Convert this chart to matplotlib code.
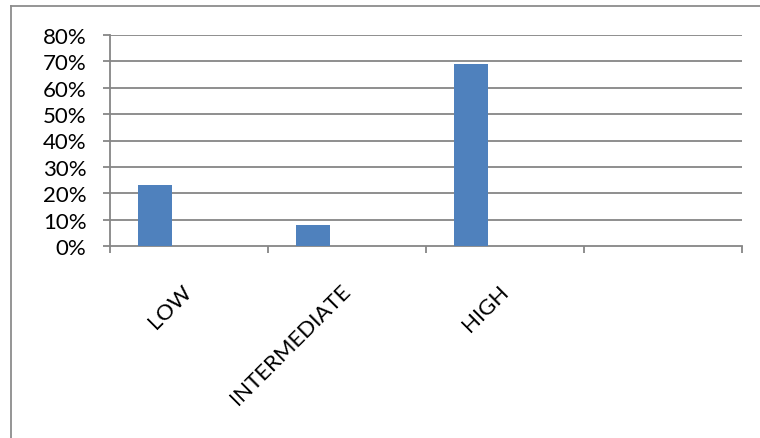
import matplotlib
matplotlib.use("Agg")
import matplotlib.pyplot as plt
from matplotlib.lines import Line2D
from matplotlib.ticker import FixedLocator, PercentFormatter

categories = ["LOW", "INTERMEDIATE", "HIGH", ""]
values = [23, 8, 69, None]
yticks = [0, 10, 20, 30, 40, 50, 60, 70, 80]

plt.rcParams['font.family'] = ['Lato', 'DejaVu Sans']

W, H = 760, 439
fig = plt.figure(figsize=(W / 100, H / 100), dpi=100)
ax = fig.add_axes([110 / W, 1 - 247 / H, (742 - 110) / W, (247 - 36) / H])

grid_c = "#868686"
bar_c = "#4F81BD"

xs = []
hs = []
for i, v in enumerate(values):
    if v is not None:
        xs.append(i + 0.5 - 0.215)
        hs.append(v)
ax.bar(xs, hs, width=0.215, color=bar_c, zorder=3)

ax.set_xlim(0, len(categories))
ax.set_ylim(0, 80)
ax.set_yticks(yticks)
ax.yaxis.set_major_formatter(PercentFormatter(decimals=0))
for y in yticks[1:]:
    ax.axhline(y, color=grid_c, lw=1.3, zorder=1)

ax.set_xticks([i + 0.5 for i in range(len(categories))])
ax.set_xticklabels(categories, rotation=45, ha='right', va='center',
                   rotation_mode='anchor', fontsize=16)
ax.xaxis.set_minor_locator(FixedLocator(list(range(len(categories) + 1))))
ax.tick_params(axis='x', which='major', length=0, pad=30)
ax.tick_params(axis='x', which='minor', length=5, width=1.3, color=grid_c, direction='out')
ax.tick_params(axis='y', length=5, width=1.3, color=grid_c, direction='out', pad=12, labelsize=16)

for s in ['top', 'right']:
    ax.spines[s].set_visible(False)
for s in ['left', 'bottom']:
    ax.spines[s].set_color(grid_c)
    ax.spines[s].set_linewidth(1.3)

# outer chart frame
fig.add_artist(Line2D([11 / W, 11 / W], [1 - 7 / H, 0], transform=fig.transFigure,
                      color="#8c8c8c", lw=1.3))
fig.add_artist(Line2D([11 / W, 1], [1 - 7 / H, 1 - 7 / H], transform=fig.transFigure,
                      color="#8c8c8c", lw=1.3))

fig.savefig("out.png", dpi=100)
